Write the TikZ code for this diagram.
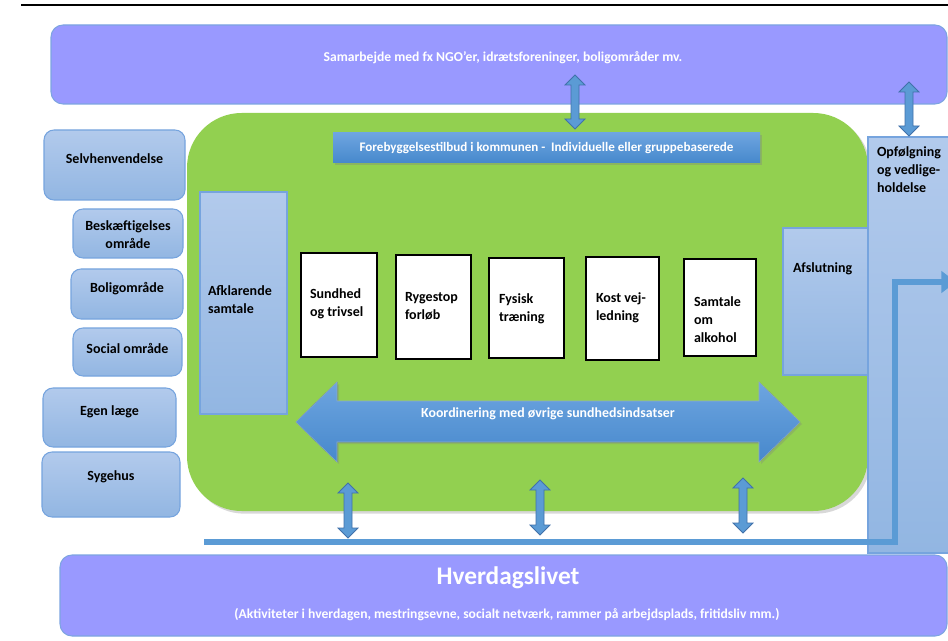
\documentclass[tikz,border=0pt]{standalone}
\usepackage{fontspec}
\setmainfont{Carlito}
\usetikzlibrary{shadows,arrows.meta}
\definecolor{purp}{RGB}{153,153,255}
\definecolor{purpline}{RGB}{125,165,225}
\definecolor{grn}{RGB}{146,208,80}
\definecolor{lbtop}{RGB}{178,202,236}
\definecolor{lbbot}{RGB}{146,182,226}
\definecolor{lbline}{RGB}{118,164,222}
\definecolor{arrblue}{RGB}{91,155,213}
\definecolor{arrline}{RGB}{65,113,170}
\definecolor{bantop}{RGB}{110,165,224}
\definecolor{banbot}{RGB}{70,136,204}
\newcommand\bx[6][]{\node[#1, minimum width={(#4-#2)*0.75pt}, minimum height={(#5-#3)*0.75pt}] (#6) at ({(#2+#4)/2},{(#3+#5)/2}) {};}
\newcommand\vda[4]{\filldraw[blockarrow] (#1,#2) coordinate (#4) -- ++(10,10) -- ++(-6,0) -- (#1+4,#3-10) -- ++(6,0) -- (#1,#3) -- ++(-10,-10) -- ++(6,0) -- (#1-4,#2+10) -- ++(-6,0) -- cycle;}
\begin{document}
\begin{tikzpicture}[x=0.75pt,y=-0.75pt,
  base/.style={inner sep=0pt, outer sep=0pt},
  purpbox/.style={base, fill=purp, draw=purpline, line width=0.8pt, rounded corners=9pt},
  greenbox/.style={base, fill=grn, rounded corners=41pt, drop shadow={shadow xshift=2pt, shadow yshift=-2pt, opacity=0.3}},
  lbround/.style={base, top color=lbtop, bottom color=lbbot, draw=lbline, line width=0.8pt, rounded corners=7.5pt},
  lbrect/.style={base, top color=lbtop, bottom color=lbbot, draw=lbline, line width=0.8pt},
  wbox/.style={base, fill=white, draw=black, line width=0.8pt},
  banner/.style={base, top color=bantop, bottom color=banbot, drop shadow={shadow xshift=1.5pt, shadow yshift=-1.5pt, opacity=0.35}, text=white, font=\bfseries\fontsize{9.8}{11}\selectfont},
  blockarrow/.style={fill=arrblue, draw=arrline, line width=0.6pt},
  txt/.style={base, font=\bfseries\fontsize{10.5}{13.5}\selectfont, align=left},
  ctxt/.style={base, font=\bfseries\fontsize{10.5}{13}\selectfont, align=center},
  wsmall/.style={base, text=white, font=\bfseries\fontsize{10.2}{11}\selectfont},
  wbig/.style={base, text=white, font=\bfseries\fontsize{19}{22}\selectfont},
  lline/.style={draw=arrblue, line width=5.2pt, -{Triangle[width=16pt,length=11pt]}}
]
\useasboundingbox (0,0) rectangle (948,641);
\fill[white] (0,0) rectangle (948,641);
\draw[line width=1.1pt] (21,5) coordinate (tl1) -- (948,5) coordinate (tl2);

% outer bands
\bx[purpbox]{51}{25}{947}{104}{samar}
\node[wsmall] (samart) at (503,58) {Samarbejde med fx NGO'er, idrætsforeninger, boligområder mv.};
\bx[purpbox]{60}{555}{947}{636}{hverdag}
\node[wbig] (hvt) at (508,578) {Hverdagslivet};
\node[wsmall] (hvs) at (507,615) {(Aktiviteter i hverdagen, mestringsevne, socialt netværk, rammer på arbejdsplads, fritidsliv mm.)};

% green area
\bx[greenbox]{187}{113}{868}{511}{green}
\bx[lbrect]{868}{137}{962}{553}{opf}
\node[txt, anchor=west] (opft) at (877,170) {Opfølgning\\og vedlige-\\holdelse};

\node[banner, minimum width={(760-333)*0.75pt}, minimum height={(163-133)*0.75pt}] (banner) at (546.5,148) {Forebyggelsestilbud i kommunen -\ \ Individuelle eller gruppebaserede};

% left boxes
\bx[lbround]{44}{130}{185}{200}{selv}
\node[ctxt] (selvt) at (114.5,159) {Selvhenvendelse};
\bx[lbround]{73}{209}{183}{258}{besk}
\node[ctxt] (beskt) at (128,234.5) {Beskæftigelses\\område};
\bx[lbround]{71}{269}{183}{319}{bolig}
\node[ctxt] (boligt) at (127,289) {Boligområde};
\bx[lbround]{73}{328}{182}{376}{social}
\node[ctxt] (socialt) at (127.5,348) {Social område};
\bx[lbround]{43}{388}{176}{447}{egen}
\node[ctxt] (egent) at (109.5,412) {Egen læge};
\bx[lbround]{42}{452}{180}{517}{syg}
\node[ctxt] (sygt) at (111,477) {Sygehus};

% side columns in green
\bx[lbrect]{200}{192}{287}{414}{afk}
\node[txt, anchor=west] (afkt) at (208,300) {Afklarende\\samtale};
\bx[lbrect]{783}{228}{868}{375}{afs}
\node[txt, anchor=west] (afst) at (793,269) {Afslutning};

% white boxes
\bx[wbox]{301}{253}{377}{357}{b1}
\node[txt, anchor=west] (b1t) at (310,304) {Sundhed\\og trivsel};
\bx[wbox]{396}{255}{471}{359}{b2}
\node[txt, anchor=west] (b2t) at (405,306) {Rygestop\\forløb};
\bx[wbox]{489}{258}{564}{358}{b3}
\node[txt, anchor=west] (b3t) at (499,309) {Fysisk\\træning};
\bx[wbox]{586}{257}{659}{360}{b4}
\node[txt, anchor=west] (b4t) at (596,307.5) {Kost vej-\\ledning};
\bx[wbox]{684}{259}{756}{356}{b5}
\node[txt, anchor=west] (b5t) at (694,320) {Samtale\\om\\alkohol};

% big coordination arrow
\filldraw[top color=bantop, bottom color=banbot, draw=arrline!60, line width=0.4pt,
  drop shadow={shadow xshift=1.5pt, shadow yshift=-1.5pt, opacity=0.3}]
  (296,422) coordinate (kl) -- (337,382) -- (337,401) -- (759,401) -- (759,382) -- (800,422) coordinate (kr)
  -- (759,462) -- (759,442) -- (337,442) -- (337,462) -- cycle;
\node[wsmall, font=\bfseries\fontsize{10.4}{11}\selectfont] (kt) at (548,414) {Koordinering med øvrige sundhedsindsatser};

% small double arrows
\vda{575}{75}{129}{a1}
\vda{909}{82}{136}{a2}
\vda{348}{483}{538}{a3}
\vda{540}{480}{535}{a4}
\vda{743}{478}{533}{a5}

% L connector line
\draw[lline] (204,542) coordinate (ls) -- (895,542) -- (895,282) -- (956,282) coordinate (le);
\end{tikzpicture}
\end{document}
